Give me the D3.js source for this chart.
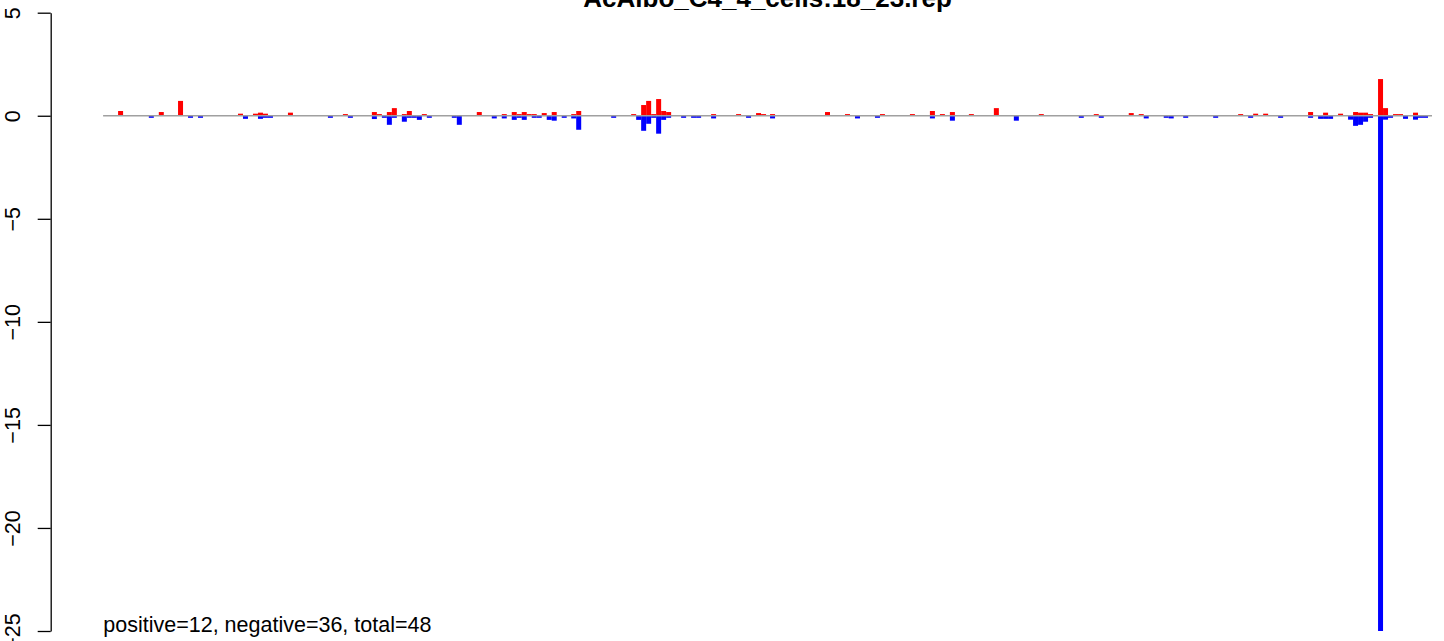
<!DOCTYPE html>
<html>
<head>
<meta charset="utf-8">
<script src="https://cdn.jsdelivr.net/npm/d3@7"></script>
<style>
  html, body { margin: 0; padding: 0; background: #ffffff; }
  svg { display: block; }
  text { font-family: "Liberation Sans", Arial, Helvetica, sans-serif; }
</style>
</head>
<body>
<svg id="chart" width="1444" height="641"></svg>
<script>
// ---- data ----
const titleText = "AcAlbo_C4_4_cells:18_23.rep";
const summaryText = "positive=12, negative=36, total=48";
const yTicks = [5, 0, -5, -10, -15, -20, -25];

// positive (red) bars: bin position and value
const posBins = [3, 11.15, 15, 27, 30, 31, 32, 37, 48, 53.8, 54.8, 56.8, 57.8, 59.8, 60.8, 63.8,
  74.8, 79.8, 81.8, 82.8, 83.8, 84.8, 85.8, 87.8, 89.8, 93.7, 94.7, 105.7, 107.7, 108.7, 109.7,
  110.7, 111.7, 112.7, 121.7, 126.7, 130.7, 131.7, 133.5, 144.5, 148.5, 155.5, 161.5, 165.5,
  167.5, 169.5, 173.3, 178.3, 187.3, 198.3, 205.3, 207.3, 227.2, 230.2, 232.2, 241.2, 244.2,
  247.2, 250.2, 251.2, 252.2, 253.2, 255.2, 256.2, 258.2, 259.2, 262.2];
const posValues = [0.23, 0.18, 0.72, 0.1, 0.1, 0.15, 0.1, 0.15, 0.08, 0.18, 0.08, 0.18, 0.37, 0.08, 0.23, 0.08,
  0.18, 0.08, 0.18, 0.08, 0.18, 0.08, 0.08, 0.13, 0.18, 0.08, 0.23, 0.08, 0.52, 0.72, 0.08,
  0.81, 0.23, 0.18, 0.08, 0.08, 0.13, 0.08, 0.08, 0.18, 0.08, 0.08, 0.08, 0.23,
  0.08, 0.18, 0.08, 0.37, 0.08, 0.08, 0.13, 0.08, 0.08, 0.1, 0.1, 0.18, 0.15,
  0.1, 0.18, 0.15, 0.15, 0.08, 1.78, 0.37, 0.08, 0.08, 0.15];

// negative (blue) bars: bin position and value
const negBins = [9.15, 17, 19, 28, 31, 32, 33, 45, 49, 53.8, 55.8, 56.8, 57.8, 59.8, 60.8, 61.8,
  62.8, 64.8, 69.8, 70.8, 77.8, 79.8, 81.8, 82.8, 83.8, 85.8, 86.8, 88.8, 89.8, 91.8, 93.7,
  94.7, 101.7, 106.7, 107.7, 108.7, 109.7, 110.7, 111.7, 112.7, 115.7, 117.7, 118.7, 121.7,
  128.7, 133.5, 150.5, 154.5, 165.5, 169.5, 182.3, 195.3, 199.3, 208.3, 212.3, 213.3, 216.2,
  222.2, 229.2, 235.2, 241.2, 243.2, 244.2, 245.2, 249.2, 250.2, 251.2, 252.2, 253.2, 255.2,
  256.2, 257.2, 260.2, 262.2, 263.2, 264.2];
const negValues = [-0.1, -0.1, -0.1, -0.15, -0.15, -0.1, -0.1, -0.1, -0.1, -0.16, -0.1, -0.44, -0.1, -0.29, -0.1, -0.1,
  -0.2, -0.1, -0.1, -0.44, -0.13, -0.13, -0.2, -0.1, -0.2, -0.1, -0.1, -0.2, -0.24, -0.1, -0.13,
  -0.68, -0.1, -0.2, -0.73, -0.39, -0.1, -0.87, -0.2, -0.1, -0.1, -0.1, -0.1, -0.13,
  -0.1, -0.13, -0.13, -0.1, -0.13, -0.24, -0.24, -0.1, -0.1, -0.13, -0.1, -0.13, -0.1,
  -0.1, -0.1, -0.1, -0.1, -0.15, -0.15, -0.15, -0.19, -0.49, -0.44, -0.29, -0.1, -25,
  -0.19, -0.1, -0.15, -0.19, -0.1, -0.1];

const binCount = 266;

// ---- drawing ----
const svg = d3.select("#chart");

const x = d3.scaleLinear().domain([0, binCount]).range([103.1, 1432]);
const y = d3.scaleLinear().domain([-25, 5]).range([631, 12.7]);
const bw = x(1) - x(0);

const posData = posBins.map((b, i) => ({ b, v: posValues[i] }));
const negData = negBins.map((b, i) => ({ b, v: negValues[i] }));

svg.append("g").selectAll("rect").data(posData).join("rect")
  .attr("x", d => x(d.b))
  .attr("width", bw)
  .attr("y", d => y(d.v))
  .attr("height", d => y(0) - y(d.v))
  .attr("fill", "#ff0000");

svg.append("g").selectAll("rect").data(negData).join("rect")
  .attr("x", d => x(d.b))
  .attr("width", bw)
  .attr("y", y(0))
  .attr("height", d => y(d.v) - y(0))
  .attr("fill", "#0000ff");

// zero line
svg.append("line")
  .attr("x1", x(0)).attr("x2", x(binCount))
  .attr("y1", y(0)).attr("y2", y(0))
  .attr("stroke", "#a0a0a0").attr("stroke-width", 1.6);

// y axis
const axis = d3.axisLeft(y).tickValues(yTicks).tickSize(13).tickSizeOuter(0).tickFormat(d3.format("d"));
const gAxis = svg.append("g").attr("transform", "translate(50.7,0)").call(axis);
gAxis.select(".domain").attr("stroke", "#000").attr("stroke-width", 1.3);
gAxis.selectAll(".tick line").attr("stroke", "#000").attr("stroke-width", 1.3);
gAxis.selectAll(".tick text")
  .attr("x", null).attr("dy", null)
  .attr("transform", "translate(-30.7,0) rotate(-90)")
  .attr("text-anchor", "middle")
  .attr("fill", "#000")
  .style("font-size", "21.5px")
  .style("font-family", "'Liberation Sans', Arial, sans-serif")
  .text(d => d < 0 ? "\u2212" + Math.abs(d) : d);

// title
svg.append("text")
  .attr("x", (x(0) + x(binCount)) / 2)
  .attr("y", 7)
  .attr("text-anchor", "middle")
  .attr("font-weight", "bold")
  .style("font-size", "26px")
  .text(titleText);

// summary text
svg.append("text")
  .attr("x", 103.3)
  .attr("y", 631.5)
  .style("font-size", "21.5px")
  .text(summaryText);
</script>
</body>
</html>
